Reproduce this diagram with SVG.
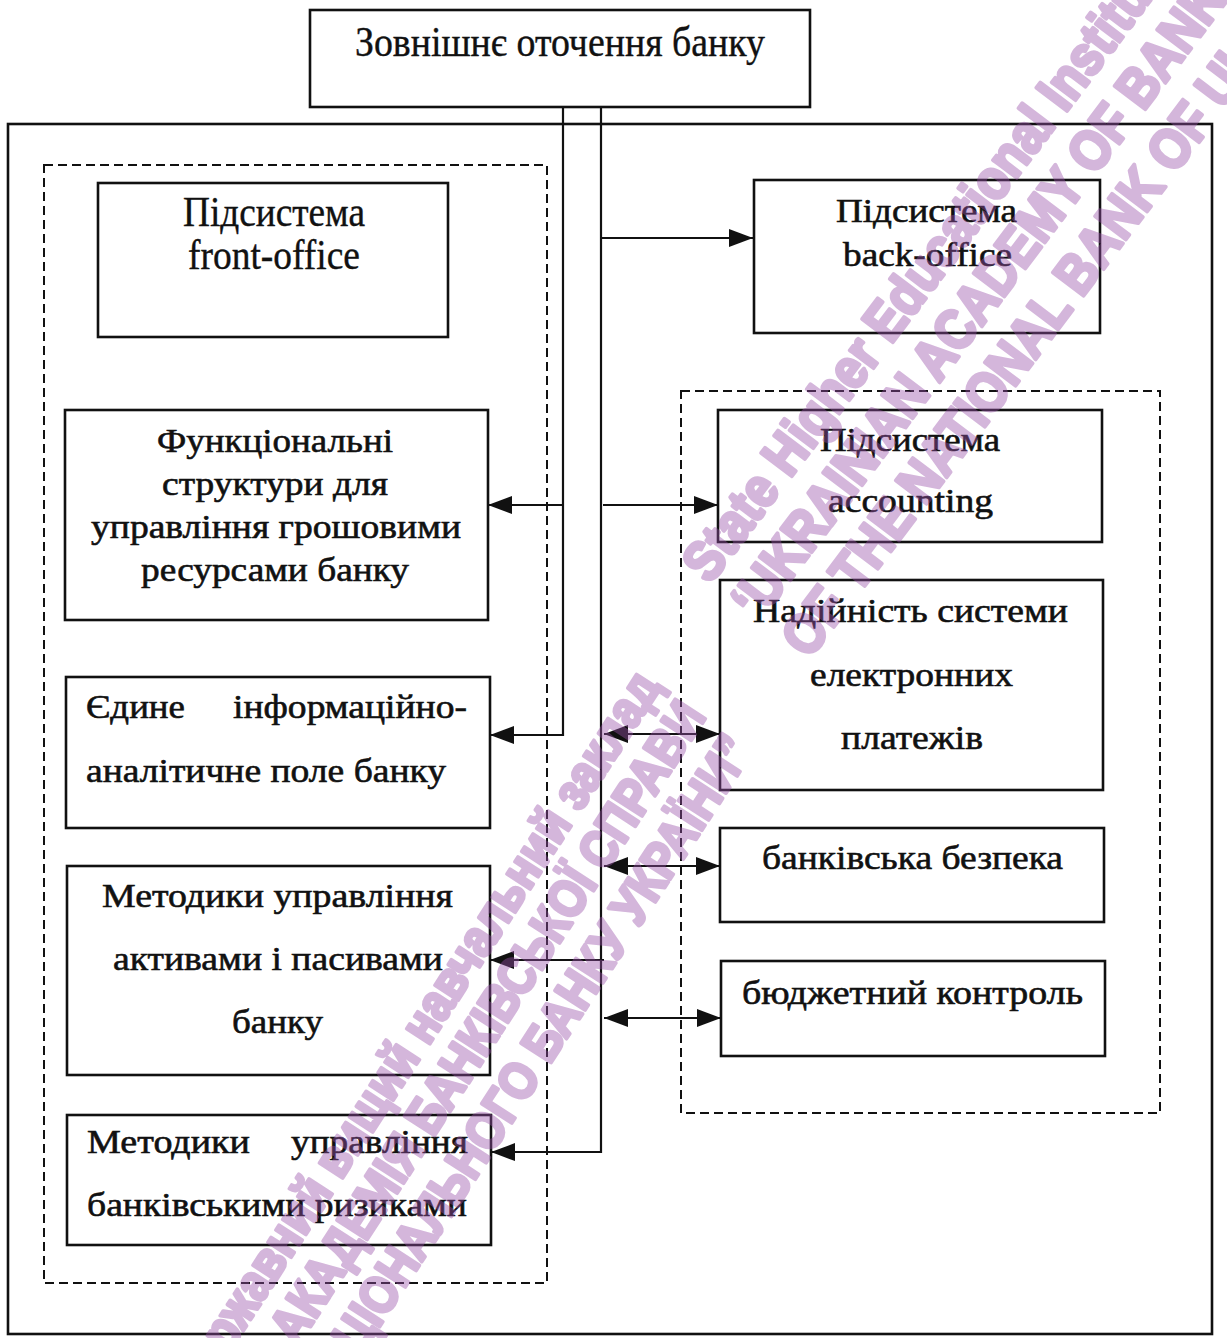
<svg xmlns="http://www.w3.org/2000/svg" width="1227" height="1338" viewBox="0 0 1227 1338">
<defs>
<style>
.box{fill:#fff;stroke:#111;stroke-width:2.6}
.dash{fill:none;stroke:#111;stroke-width:2;stroke-dasharray:9 5}
.outer{fill:none;stroke:#111;stroke-width:2.6}
.con{fill:none;stroke:#111;stroke-width:2.2}
.t{font-family:"Liberation Serif","Times New Roman",serif;font-size:34px;fill:#111;stroke:#111;stroke-width:0.6}
.tc{font-family:"Liberation Serif","Times New Roman",serif;font-size:43px;fill:#111;stroke:#111;stroke-width:0.4}
.wm{font-family:"Liberation Sans",Arial,sans-serif;font-weight:bold;fill:#9a52aa;stroke:#9a52aa;stroke-width:3.8;stroke-linejoin:round}
</style>
<marker id="ah" viewBox="0 0 24 18" refX="24" refY="9" markerWidth="24" markerHeight="18" markerUnits="userSpaceOnUse" orient="auto-start-reverse">
<path d="M0,0 L24,9 L0,18 z" fill="#111"/>
</marker>
</defs>
<rect width="1227" height="1338" fill="#fff"/>

<g id="outer-frame">
<rect class="outer" x="8" y="124" width="1204" height="1210"/>
</g>
<g id="front-office-group">
<rect class="dash" x="44" y="165" width="503" height="1118"/>
</g>
<g id="back-office-group">
<rect class="dash" x="681" y="391" width="479" height="722"/>
</g>

<g id="connectors">
<path class="con" d="M563,107 V735 H490" marker-end="url(#ah)"/>
<path class="con" d="M563,505 H488" marker-end="url(#ah)"/>
<path class="con" d="M601,107 V1152 H491" marker-end="url(#ah)"/>
<path class="con" d="M601,238 H753" marker-end="url(#ah)"/>
<path class="con" d="M603,505 H718" marker-end="url(#ah)"/>
<path class="con" d="M604,734 H720" marker-start="url(#ah)" marker-end="url(#ah)"/>
<path class="con" d="M604,866 H720" marker-start="url(#ah)" marker-end="url(#ah)"/>
<path class="con" d="M604,960 H490" marker-end="url(#ah)"/>
<path class="con" d="M604,1018 H721" marker-start="url(#ah)" marker-end="url(#ah)"/>
</g>

<g id="node-external">
<rect class="box" x="310" y="10" width="500" height="97"/>
<text class="tc" x="355" y="56" textLength="410" lengthAdjust="spacingAndGlyphs">Зовнішнє оточення банку</text>
</g>
<g id="node-front-office">
<rect class="box" x="98" y="183" width="350" height="154"/>
<text class="tc" x="183" y="226" textLength="182" lengthAdjust="spacingAndGlyphs">Підсистема</text>
<text class="tc" x="188" y="269" textLength="172" lengthAdjust="spacingAndGlyphs">front-office</text>
</g>
<g id="node-back-office">
<rect class="box" x="754" y="180" width="346" height="153"/>
<text class="t" x="836" y="222" textLength="181" lengthAdjust="spacingAndGlyphs">Підсистема</text>
<text class="t" x="843" y="266" textLength="169" lengthAdjust="spacingAndGlyphs">back-office</text>
</g>
<g id="node-functional">
<rect class="box" x="65" y="410" width="423" height="210"/>
<text class="t" x="157" y="452" textLength="236" lengthAdjust="spacingAndGlyphs">Функціональні</text>
<text class="t" x="162" y="495" textLength="226" lengthAdjust="spacingAndGlyphs">структури для</text>
<text class="t" x="91" y="538" textLength="370" lengthAdjust="spacingAndGlyphs">управління грошовими</text>
<text class="t" x="141" y="581" textLength="268" lengthAdjust="spacingAndGlyphs">ресурсами банку</text>
</g>
<g id="node-info-field">
<rect class="box" x="66" y="677" width="424" height="151"/>
<text class="t" x="86" y="718" textLength="99" lengthAdjust="spacingAndGlyphs">Єдине</text>
<text class="t" x="233" y="718" textLength="234" lengthAdjust="spacingAndGlyphs">інформаційно-</text>
<text class="t" x="86" y="782" textLength="360" lengthAdjust="spacingAndGlyphs">аналітичне поле банку</text>
</g>
<g id="node-assets">
<rect class="box" x="67" y="866" width="423" height="209"/>
<text class="t" x="102" y="907" textLength="351" lengthAdjust="spacingAndGlyphs">Методики управління</text>
<text class="t" x="113" y="970" textLength="330" lengthAdjust="spacingAndGlyphs">активами і пасивами</text>
<text class="t" x="232" y="1033" textLength="91" lengthAdjust="spacingAndGlyphs">банку</text>
</g>
<g id="node-risks">
<rect class="box" x="67" y="1115" width="424" height="130"/>
<text class="t" x="87" y="1153" textLength="163" lengthAdjust="spacingAndGlyphs">Методики</text>
<text class="t" x="291" y="1153" textLength="177" lengthAdjust="spacingAndGlyphs">управління</text>
<text class="t" x="87" y="1216" textLength="380" lengthAdjust="spacingAndGlyphs">банківськими ризиками</text>
</g>
<g id="node-accounting">
<rect class="box" x="718" y="410" width="384" height="132"/>
<text class="t" x="820" y="451" textLength="180" lengthAdjust="spacingAndGlyphs">Підсистема</text>
<text class="t" x="828" y="512" textLength="165" lengthAdjust="spacingAndGlyphs">accounting</text>
</g>
<g id="node-payments">
<rect class="box" x="720" y="580" width="383" height="210"/>
<text class="t" x="753" y="622" textLength="315" lengthAdjust="spacingAndGlyphs">Надійність системи</text>
<text class="t" x="810" y="686" textLength="203" lengthAdjust="spacingAndGlyphs">електронних</text>
<text class="t" x="841" y="749" textLength="142" lengthAdjust="spacingAndGlyphs">платежів</text>
</g>
<g id="node-security">
<rect class="box" x="720" y="828" width="384" height="94"/>
<text class="t" x="762" y="869" textLength="301" lengthAdjust="spacingAndGlyphs">банківська безпека</text>
</g>
<g id="node-budget">
<rect class="box" x="721" y="961" width="384" height="95"/>
<text class="t" x="742" y="1004" textLength="341" lengthAdjust="spacingAndGlyphs">бюджетний контроль</text>
</g>

<g id="watermark" class="wm" opacity="0.42">
<text font-size="56" transform="translate(710,585) rotate(-53) scale(0.87,1)">State Higher Educational Institution</text>
<text font-size="56" transform="translate(759,622) rotate(-53) scale(0.87,1)">‘UKRAINIAN ACADEMY OF BANKING</text>
<text font-size="56" transform="translate(809,660) rotate(-53) scale(0.87,1)">OF THE NATIONAL BANK OF UKRAINE’</text>
<text font-size="52" text-anchor="end" transform="translate(662,686) rotate(-57) scale(0.86,1)">Державний вищий навчальний заклад</text>
<text font-size="52" text-anchor="end" transform="translate(707,716) rotate(-57) scale(0.86,1)">“УКРАЇНСЬКА АКАДЕМІЯ БАНКІВСЬКОЇ СПРАВИ</text>
<text font-size="52" text-anchor="end" transform="translate(754,750) rotate(-57) scale(0.86,1)">НАЦІОНАЛЬНОГО БАНКУ УКРАЇНИ”</text>
</g>
</svg>
